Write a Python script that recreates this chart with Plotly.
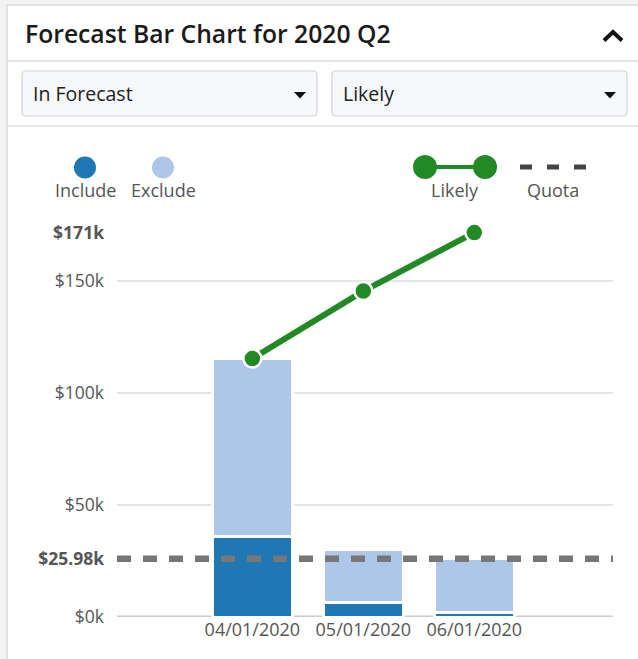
import plotly.graph_objects as go

# ---- data (values in thousands of dollars) ----
months = ["04/01/2020", "05/01/2020", "06/01/2020"]
include = [35.8, 6.6, 2.0]
exclude = [79.6, 23.5, 24.1]
likely = [115.4, 145.5, 171.6]
quota = 25.98
grid_values = [50, 100, 150]
tick_values = [0, 50, 100, 150]

W, H = 638, 659
FONT = "Open Sans"
INC_COLOR = "#1f77b4"
EXC_COLOR = "#aec7e8"
LIKELY_COLOR = "#218a24"
QUOTA_COLOR = "#777777"
TEXT = "#555555"


def X(px):
    return px / W


def Y(py):
    return 1 - py / H


def money(v):
    return f"${v:g}k" if v != int(v) else f"${int(v)}k"


fig = go.Figure()

fig.add_trace(go.Bar(
    x=months, y=include, name="Include", width=0.72,
    marker=dict(color=INC_COLOR, line=dict(color="white", width=3)),
))
fig.add_trace(go.Bar(
    x=months, y=exclude, name="Exclude", width=0.72,
    marker=dict(color=EXC_COLOR, line=dict(color="white", width=3)),
))
fig.add_trace(go.Scatter(
    x=months, y=likely, name="Likely", mode="lines+markers",
    line=dict(color=LIKELY_COLOR, width=6),
    marker=dict(size=18, color=LIKELY_COLOR, line=dict(color="white", width=2.5)),
    cliponaxis=False,
))

# y ticks: regular steps plus bold quota and maximum
top = max(likely)
yvals = tick_values + [quota, top]
ytext = [money(v) for v in tick_values] + [f"<b>${quota}k</b>", f"<b>${int(top)}k</b>"]

shapes = []

# card background and borders
shapes.append(dict(type="rect", xref="paper", yref="paper",
                   x0=X(7), x1=X(660), y0=Y(5), y1=Y(680),
                   fillcolor="white", line=dict(color="#dcdcdc", width=1.5), layer="below"))
for yy in (61, 126):
    shapes.append(dict(type="line", xref="paper", yref="paper",
                       x0=X(7), x1=X(660), y0=Y(yy), y1=Y(yy),
                       line=dict(color="#dedede", width=1.5), layer="below"))

# collapse chevron
shapes.append(dict(type="path", xref="paper", yref="paper",
                   path=f"M {X(604)},{Y(40.5)} L {X(613)},{Y(32)} L {X(622)},{Y(40.5)}",
                   line=dict(color="#111111", width=4)))


# dropdown boxes
def rounded_box(x0, y0, x1, y1, r=4):
    p = (f"M {X(x0 + r)},{Y(y0)} L {X(x1 - r)},{Y(y0)} "
         f"Q {X(x1)},{Y(y0)} {X(x1)},{Y(y0 + r)} L {X(x1)},{Y(y1 - r)} "
         f"Q {X(x1)},{Y(y1)} {X(x1 - r)},{Y(y1)} L {X(x0 + r)},{Y(y1)} "
         f"Q {X(x0)},{Y(y1)} {X(x0)},{Y(y1 - r)} L {X(x0)},{Y(y0 + r)} "
         f"Q {X(x0)},{Y(y0)} {X(x0 + r)},{Y(y0)} Z")
    return dict(type="path", xref="paper", yref="paper", path=p,
                fillcolor="#f6f8fb", line=dict(color="#cfd3d8", width=1.2), layer="below")


def caret(cx, cy):
    p = f"M {X(cx - 6)},{Y(cy - 3)} L {X(cx + 6)},{Y(cy - 3)} L {X(cx)},{Y(cy + 3.5)} Z"
    return dict(type="path", xref="paper", yref="paper", path=p,
                fillcolor="#111111", line=dict(width=0))


shapes += [rounded_box(22, 71, 317, 116), rounded_box(332, 71, 627, 116),
           caret(300, 95), caret(610, 95)]

# grid lines and baseline
for g in grid_values:
    shapes.append(dict(type="line", xref="x domain", yref="y", x0=0, x1=1, y0=g, y1=g,
                       line=dict(color="#dddddd", width=1.5), layer="below"))
shapes.append(dict(type="line", xref="x domain", yref="y", x0=0, x1=1, y0=0, y1=0,
                   line=dict(color="#cccccc", width=3), layer="below"))

# quota reference line
shapes.append(dict(type="line", xref="x domain", yref="y", x0=0, x1=1, y0=quota, y1=quota,
                   line=dict(color=QUOTA_COLOR, width=6.5, dash="14px,12px"), layer="above"))

# legend marks
for cx, col in ((85, INC_COLOR), (163, EXC_COLOR)):
    shapes.append(dict(type="circle", xref="paper", yref="paper",
                       x0=X(cx - 11), x1=X(cx + 11), y0=Y(156.5), y1=Y(178.5),
                       fillcolor=col, line=dict(width=0)))
shapes.append(dict(type="line", xref="paper", yref="paper",
                   x0=X(425), x1=X(485), y0=Y(167), y1=Y(167),
                   line=dict(color=LIKELY_COLOR, width=4)))
for cx in (425, 485):
    shapes.append(dict(type="circle", xref="paper", yref="paper",
                       x0=X(cx - 12), x1=X(cx + 12), y0=Y(155), y1=Y(179),
                       fillcolor=LIKELY_COLOR, line=dict(width=0)))
shapes.append(dict(type="line", xref="paper", yref="paper",
                   x0=X(520), x1=X(586), y0=Y(167), y1=Y(167),
                   line=dict(color="#444444", width=5, dash="12px,15px")))

annotations = [
    dict(text="Forecast Bar Chart for 2020 Q2", x=X(23), y=Y(34), xanchor="left", yanchor="middle",
         font=dict(family=FONT, size=24.7, color="#1a1a1a", weight=600)),
    dict(text="In Forecast", x=X(31), y=Y(93.5), xanchor="left", yanchor="middle",
         font=dict(family=FONT, size=19.5, color="#222222")),
    dict(text="Likely", x=X(341), y=Y(93.5), xanchor="left", yanchor="middle",
         font=dict(family=FONT, size=19.5, color="#222222")),
]
for label, cx in (("Include", 85), ("Exclude", 163), ("Likely", 455), ("Quota", 553)):
    annotations.append(dict(text=label, x=X(cx), y=Y(189.5), xanchor="center", yanchor="middle",
                            font=dict(family=FONT, size=18, color=TEXT)))
for a in annotations:
    a.update(xref="paper", yref="paper", showarrow=False)

fig.update_layout(
    width=W, height=H, autosize=False,
    margin=dict(l=0, r=0, t=0, b=0),
    paper_bgcolor="#f3f3f3", plot_bgcolor="rgba(0,0,0,0)",
    barmode="stack", showlegend=False,
    font=dict(family=FONT, color=TEXT),
    shapes=shapes, annotations=annotations,
    xaxis=dict(domain=[X(117), X(613)], range=[-1.22, 3.25], type="category",
               showgrid=False, zeroline=False, showline=False, ticks="",
               tickfont=dict(family=FONT, size=18, color=TEXT), automargin=False,
               fixedrange=True),
    yaxis=dict(domain=[Y(617), Y(225)], range=[0, 175],
               showgrid=False, zeroline=False, showline=False, ticks="",
               tickvals=yvals, ticktext=ytext, ticklabelstandoff=12,
               tickfont=dict(family=FONT, size=17.5, color=TEXT), automargin=False,
               fixedrange=True),
)

fig.write_html("out.html", config={"displayModeBar": False})
